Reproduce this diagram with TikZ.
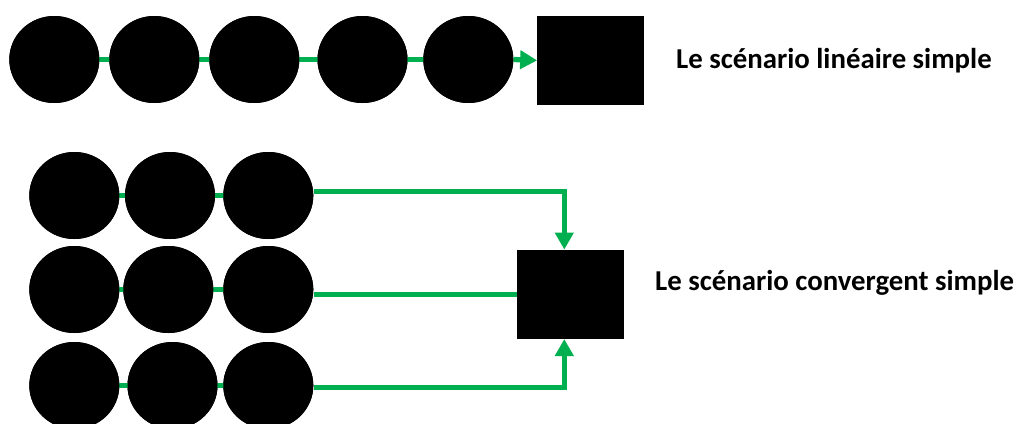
\documentclass[tikz,border=0pt]{standalone}
\usepackage{fontspec}
\setmainfont{Carlito}
\usetikzlibrary{shapes.geometric,arrows.meta}
\definecolor{lgreen}{RGB}{0,176,80}
\tikzset{
  dot/.style={ellipse,fill=black,draw=none,inner sep=0pt,minimum width=90pt,minimum height=87pt},
  blk/.style={rectangle,fill=black,draw=none,inner sep=0pt,minimum width=106.7pt,minimum height=89pt},
  link/.style={draw=lgreen,line width=5.3pt},
  arr/.style={link,-{Triangle[length=17pt,width=18pt]}},
  lbl/.style={font=\bfseries\fontsize{28.8}{34}\selectfont,inner sep=0pt,anchor=base west}
}
\begin{document}
\begin{tikzpicture}[x=1pt,y=-1pt]
\useasboundingbox (0,0) rectangle (1024,423);
% top row
\node[dot] (a1) at (54.3,59.5) {};
\node[dot] (a2) at (154.3,59.5) {};
\node[dot] (a3) at (254.3,59.5) {};
\node[dot] (a4) at (362.5,59.5) {};
\node[dot] (a5) at (468.3,59.5) {};
\node[blk] (sq1) at (590.7,60.4) {};
\node[lbl] (t1) at (676,68.3) {Le scénario linéaire simple};
% bottom rows
\node[dot] (b11) at (74.3,195.5) {};
\node[dot] (b12) at (170,195.5) {};
\node[dot] (b13) at (268.3,195.5) {};
\node[dot] (b21) at (74.3,289.5) {};
\node[dot] (b22) at (168.3,289.5) {};
\node[dot] (b23) at (268.3,289.5) {};
\node[dot] (b31) at (74.3,385.5) {};
\node[dot] (b32) at (172.5,385.5) {};
\node[dot] (b33) at (268.3,385.5) {};
\node[blk] (sq2) at (570.7,294.3) {};
\node[lbl] (t2) at (655,290.7) {Le scénario convergent simple};
\coordinate (c1) at (564.3,191.7);
\coordinate (c3) at (564.3,387.2);
% connectors
\draw[link] (a1.center) -- (a2.center);
\draw[link] (a2.center) -- (a3.center);
\draw[link] (a3.center) -- (a4.center);
\draw[link] (a4.center) -- (a5.center);
\draw[arr] (a5.east) -- (sq1.west);
\draw[link] (b11.center) -- (b12.center);
\draw[link] (b12.center) -- (b13.center);
\draw[arr] (b13.east |- c1) -- (c1) -- (c1 |- sq2.north);
\draw[link] (b21.center) -- (b22.center);
\draw[link] (b22.center) -- (b23.center);
\draw[link] (b23.east |- sq2.west) -- (sq2.west);
\draw[link] (b31.center) -- (b32.center);
\draw[link] (b32.center) -- (b33.center);
\draw[arr] (b33.east |- c3) -- (c3) -- (c3 |- sq2.south);
% redraw dots on top of the lines
\foreach \n in {a1,a2,a3,a4,a5,b11,b12,b13,b21,b22,b23,b31,b32,b33}{
  \fill[black] (\n.center) ellipse [x radius=45pt, y radius=43.5pt];
}
\end{tikzpicture}
\end{document}
